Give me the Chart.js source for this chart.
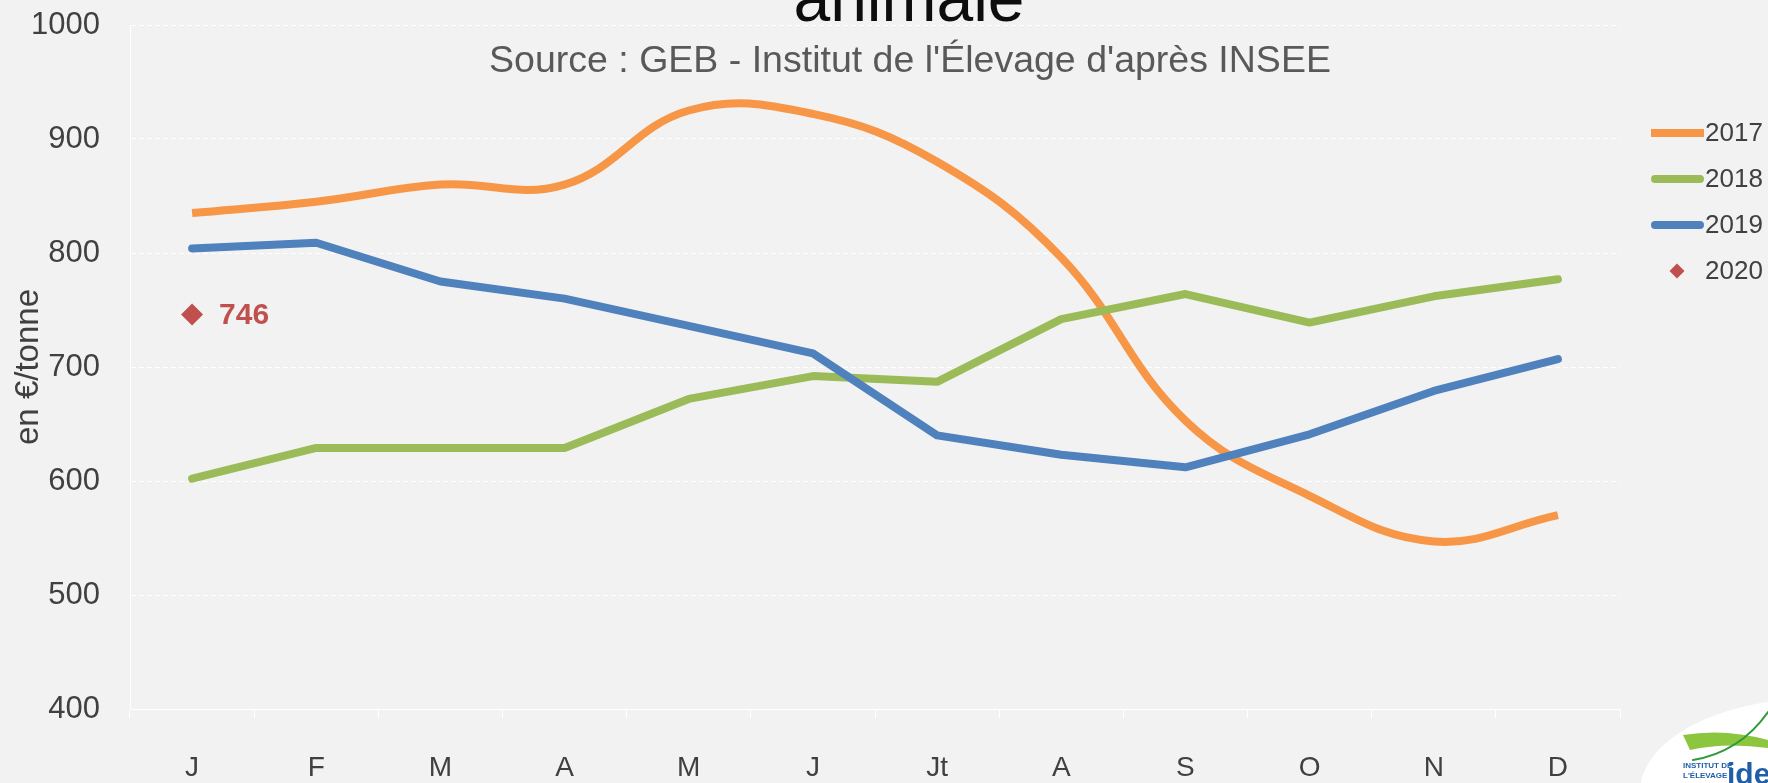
<!DOCTYPE html>
<html>
<head>
<meta charset="utf-8">
<script src="https://cdn.jsdelivr.net/npm/chart.js@4/dist/chart.umd.min.js"></script>
<style>
body { margin: 0; background: #f2f2f2; }
#wrap { width: 1768px; height: 783px; position: relative; }
</style>
</head>
<body>
<div id="wrap"><canvas id="c"></canvas></div>
<script>
const months = ['J', 'F', 'M', 'A', 'M', 'J', 'Jt', 'A', 'S', 'O', 'N', 'D'];
const prix2017 = [835, 845, 860, 860, 925, 922, 880, 796, 653, 587, 547, 570];
const prix2018 = [602, 629, 629, 629, 672, 692, 687, 742, 764, 739, 762, 777];
const prix2019 = [804, 809, 775, 760, 736, 712, 640, 623, 612, 641, 679, 707];
const prix2020 = [746];
const yMin = 400, yMax = 1000, yStep = 100;

const titleText = 'animale';
const subtitleText = "Source : GEB - Institut de l'Élevage d'après INSEE";
const yTitle = 'en €/tonne';

const orange = '#f79646', green = '#9bbb59', blue = '#4f81bd', red = '#c0504d';
const txt = '#404040';
const FONT = '"Liberation Sans", Arial, sans-serif';

Chart.defaults.font.family = FONT;

// title, source line, legend, value label and logo
const extras = {
	id: 'extras',
	afterDraw(chart) {
		const ctx = chart.ctx;
		ctx.save();

		// title is cut at the top in the source picture
		ctx.fillStyle = '#0d0d0d';
		ctx.font = `66px ${FONT}`;
		ctx.textAlign = 'center';
		ctx.textBaseline = 'alphabetic';
		ctx.fillText(titleText, 909, 21);

		ctx.fillStyle = '#595959';
		ctx.font = `37.5px ${FONT}`;
		ctx.textBaseline = 'middle';
		ctx.fillText(subtitleText, 910, 62);

		// label of the 2020 point
		const pt = chart.getDatasetMeta(3).data[0];
		ctx.fillStyle = red;
		ctx.font = `bold 30px ${FONT}`;
		ctx.textAlign = 'left';
		ctx.fillText(String(prix2020[0]), pt.x + 27, pt.y + 1);

		// legend
		chart.data.datasets.forEach((ds, i) => {
			const y = 133 + i * 46;
			if (ds.showLine === false) {
				const r = 7.5;
				ctx.fillStyle = ds.backgroundColor;
				ctx.beginPath();
				ctx.moveTo(1677, y - r);
				ctx.lineTo(1677 + r, y);
				ctx.lineTo(1677, y + r);
				ctx.lineTo(1677 - r, y);
				ctx.closePath();
				ctx.fill();
			} else {
				const round = ds.borderCapStyle === 'round';
				ctx.strokeStyle = ds.borderColor;
				ctx.lineWidth = 8;
				ctx.lineCap = ds.borderCapStyle;
				ctx.beginPath();
				ctx.moveTo(round ? 1655 : 1651, y);
				ctx.lineTo(round ? 1700 : 1704, y);
				ctx.stroke();
			}
			ctx.fillStyle = txt;
			ctx.font = `26px ${FONT}`;
			ctx.textAlign = 'left';
			ctx.fillText(ds.label, 1705, y + 1);
		});

		// logo corner
		ctx.fillStyle = '#ffffff';
		ctx.beginPath();
		ctx.ellipse(1812, 792, 172, 93, 0, 0, Math.PI * 2);
		ctx.fill();
		ctx.fillStyle = '#8cc63e';
		ctx.beginPath();
		ctx.moveTo(1683, 735);
		ctx.quadraticCurveTo(1725, 728, 1768, 740);
		ctx.lineTo(1768, 748);
		ctx.quadraticCurveTo(1725, 742, 1690, 750);
		ctx.closePath();
		ctx.fill();
		ctx.strokeStyle = '#2e9a3a';
		ctx.lineWidth = 2;
		ctx.beginPath();
		ctx.moveTo(1693, 760);
		ctx.quadraticCurveTo(1740, 752, 1768, 712);
		ctx.stroke();
		ctx.fillStyle = '#1f5fa8';
		ctx.font = `bold 8px ${FONT}`;
		ctx.fillText('INSTITUT DE', 1683, 766);
		ctx.fillText("L'ÉLEVAGE", 1683, 776);
		ctx.font = `bold 30px ${FONT}`;
		ctx.textBaseline = 'alphabetic';
		ctx.fillText('idele', 1727, 784);
		ctx.restore();
	}
};

new Chart(document.getElementById('c'), {
	type: 'line',
	data: {
		labels: months,
		datasets: [
			{ label: '2017', data: prix2017, borderColor: orange, backgroundColor: orange, borderWidth: 8,
				borderCapStyle: 'butt', tension: 0.4, pointRadius: 0, order: 4 },
			{ label: '2018', data: prix2018, borderColor: green, backgroundColor: green, borderWidth: 8,
				borderCapStyle: 'round', borderJoinStyle: 'round', tension: 0, pointRadius: 0, order: 3 },
			{ label: '2019', data: prix2019, borderColor: blue, backgroundColor: blue, borderWidth: 8,
				borderCapStyle: 'round', borderJoinStyle: 'round', tension: 0, pointRadius: 0, order: 2 },
			{ label: '2020', data: prix2020, borderColor: red, backgroundColor: red, showLine: false,
				pointStyle: 'rectRot', pointRadius: 11, pointBorderWidth: 0, order: 1 },
		],
	},
	options: {
		responsive: true,
		maintainAspectRatio: false,
		animation: false,
		layout: { padding: { top: 25, right: 148, left: 0, bottom: 0 } },
		plugins: {
			legend: { display: false },
			title: { display: false },
			tooltip: { enabled: false },
		},
		scales: {
			x: {
				offset: true,
				grid: { offset: true, drawOnChartArea: false, drawTicks: true, tickLength: 9, color: '#ffffff' },
				border: { color: '#ffffff', width: 1 },
				ticks: { padding: 33, color: txt, font: { size: 28 }, maxRotation: 0, autoSkip: false },
				afterFit(s) {
					s.height = 74;
					s.paddingLeft = 0;
					s.paddingRight = 0;
				},
			},
			y: {
				min: yMin,
				max: yMax,
				ticks: { stepSize: yStep, padding: 30, color: txt, font: { size: 31 }, callback: v => String(v) },
				grid: { color: '#ffffff', lineWidth: 1, drawTicks: false },
				border: { color: '#ffffff', width: 1, dash: [5, 3] },
				title: { display: true, text: yTitle, color: txt, font: { size: 33 }, padding: { top: 9, bottom: 0 } },
				afterFit(s) {
					s.width = 130;
					s.paddingTop = 0;
					s.paddingBottom = 0;
				},
			},
		},
	},
	plugins: [extras],
});
</script>
</body>
</html>
